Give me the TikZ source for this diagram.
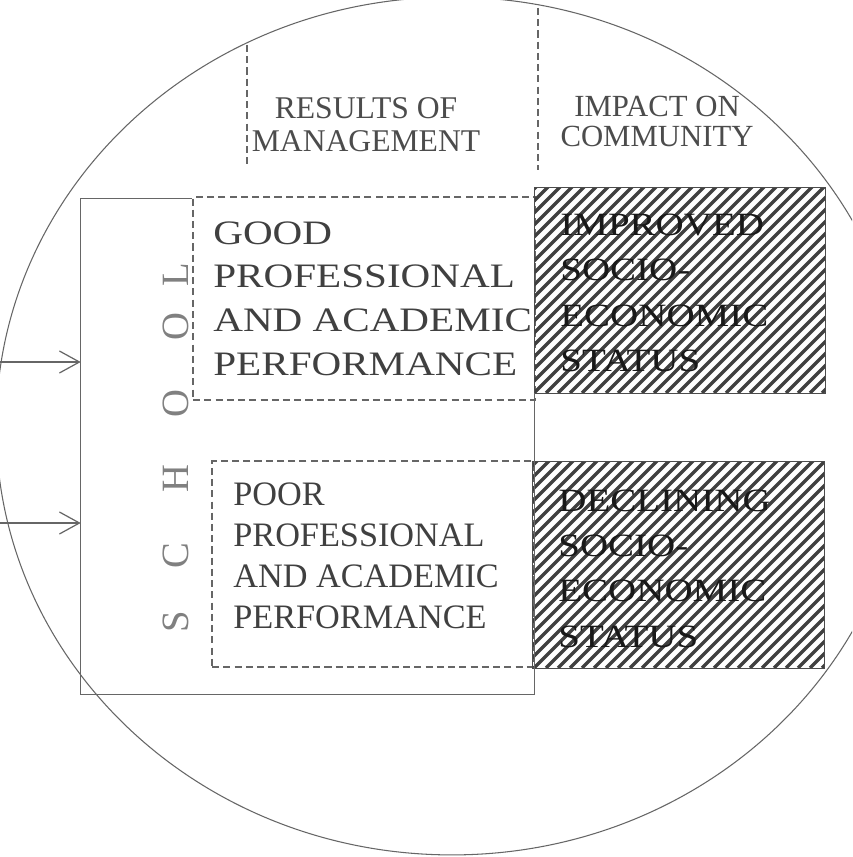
\documentclass[tikz,border=0pt]{standalone}
\usepackage{fontspec}
\setmainfont{Liberation Serif}
\newfontfamily\wideSerif[FakeStretch=1.2]{Liberation Serif}
\usetikzlibrary{arrows.meta}

\begin{document}
\begin{tikzpicture}
		[x=0.02cm, y=-0.02cm,
			lineDecorate/.style={draw=black!60, line width=0.7pt},
			dashDecorate/.style={draw=black!60, line width=0.7pt, dash pattern=on 4pt off 2.4pt},
			arrowDecorate/.style={lineDecorate, -{Straight Barb[length=4mm, width=4.4mm, line width=0.7pt]}},
			hatchDecorate/.style={draw=black!75, line width=1.9pt},
			boxDecorate/.style={shape=rectangle, inner sep=0pt},
			headDecorate/.style={align=center, inner sep=0pt, text=black!70, font=\fontsize{18}{19}\selectfont},
			bodyDecorate/.style={align=left, inner sep=0pt, text=black!75, anchor=west},
			letterDecorate/.style={inner sep=0pt, rotate=90, text=black!50, font=\fontsize{22}{22}\selectfont}]
		\useasboundingbox (0,0) rectangle (852,857);
		\fill[white] (0,0) rectangle (852,857);
		\begin{scope}
			\clip (0,0) rectangle (852,857);
			\draw[draw=black!60, line width=0.6pt] (452,426) ellipse [x radius=9.12cm, y radius=8.58cm];
		\end{scope}

		% boxes
		\node (school) [boxDecorate, minimum width=9.06cm, minimum height=9.9cm] at (307.5,446.5) {};
		\node (good) [boxDecorate, dashDecorate, minimum width=6.84cm, minimum height=4.06cm] at (364,298.5) {};
		\node (poor) [boxDecorate, dashDecorate, minimum width=6.42cm, minimum height=4.12cm] at (372.5,564) {};
		\node (improved) [boxDecorate, minimum width=5.8cm, minimum height=4.1cm] at (680,290.5) {};
		\node (declining) [boxDecorate, minimum width=5.82cm, minimum height=4.12cm] at (678.5,565) {};
		\foreach \boxname/\bottom in {improved/393, declining/668}
			{
				\begin{scope}
					\clip (\boxname.south west) rectangle (\boxname.north east);
					\foreach \x in {306,318,...,834}
						\draw[hatchDecorate] (\x,\bottom) -- ++(220,-220);
				\end{scope}
				\draw[lineDecorate, draw=black!70] (\boxname.south west) rectangle (\boxname.north east);
			}
		\draw[lineDecorate] (good.north west |- school.north) -- (school.north west) -- (school.south west)
			-- (school.south east) -- (school.east |- improved.south);

		% column heads
		\draw[dashDecorate] (247,45) -- (247,168);
		\draw[dashDecorate] (538,8) -- (538,170);
		\node (results) [headDecorate] at (366,124.5) {RESULTS OF\\MANAGEMENT};
		\node (impact) [headDecorate, font=\fontsize{17.5}{17.6}\selectfont] at (657,121.5) {IMPACT ON\\COMMUNITY};

		% texts
		\node (goodText) [bodyDecorate, font=\wideSerif\fontsize{19.5}{24.8}\selectfont] at (213,298.5)
			{GOOD\\PROFESSIONAL\\AND ACADEMIC\\PERFORMANCE};
		\node (poorText) [bodyDecorate, font=\fontsize{19.5}{23.3}\selectfont] at (233,555.5)
			{POOR\\PROFESSIONAL\\AND ACADEMIC\\PERFORMANCE};
		\node (improvedText) [bodyDecorate, text=black!90, font=\wideSerif\fontsize{18.5}{25.8}\selectfont] at (560,293)
			{IMPROVED\\SOCIO-\\ECONOMIC\\STATUS};
		\node (decliningText) [bodyDecorate, text=black!90, font=\wideSerif\fontsize{18.5}{25.8}\selectfont] at (558,568.5)
			{DECLINING\\SOCIO-\\ECONOMIC\\STATUS};
		\foreach \letter/\y [count=\i] in {S/622, C/556, H/479, O/404, O/327, L/275}
			{
				\node (letter\i) [letterDecorate] at (176,\y) {\letter};
			}

		% inputs
		\coordinate (upperIn) at (0,362);
		\coordinate (lowerIn) at (0,523);
		\draw[arrowDecorate] (upperIn) -- (upperIn -| school.west);
		\draw[arrowDecorate] (lowerIn) -- (lowerIn -| school.west);
	\end{tikzpicture}
\end{document}
